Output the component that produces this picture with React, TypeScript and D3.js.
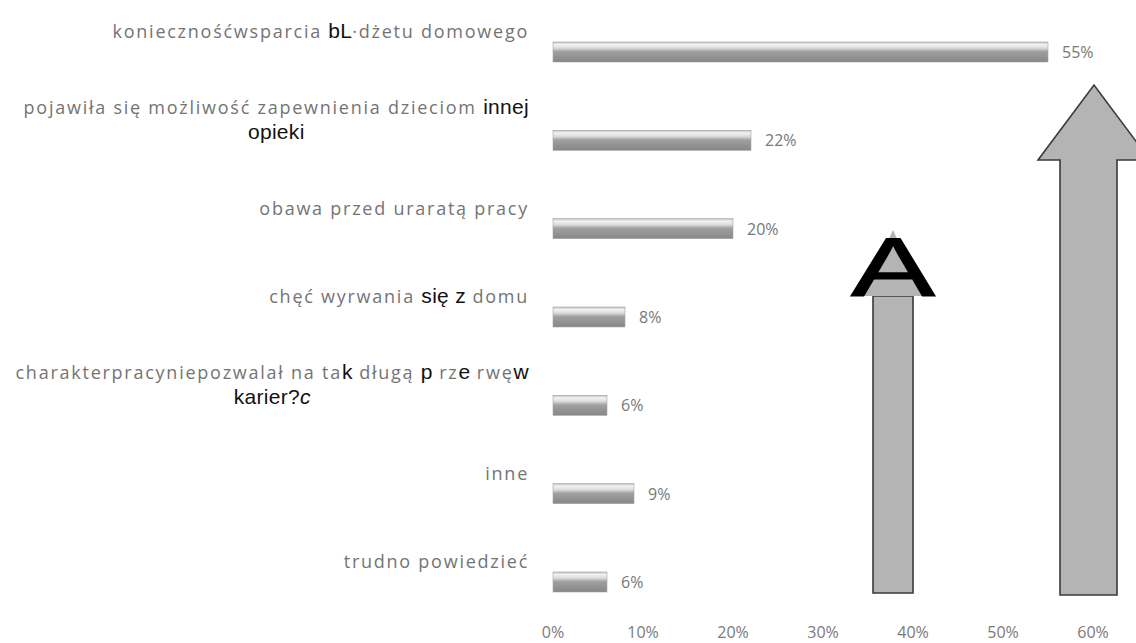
import React, { useEffect, useRef } from 'react';
import * as d3 from 'd3';

// ---- data ----
const categories = [
  'koniecznośćwsparcia bL·dżetu domowego',
  'pojawiła się możliwość zapewnienia dzieciom innej opieki',
  'obawa przed uraratą pracy',
  'chęć wyrwania się z domu',
  'charakterpracyniepozwalał na tak długą przerwę w karier?c',
  'inne',
  'trudno powiedzieć',
];
const values = [55, 22, 20, 8, 6, 9, 6];
const tickValues = [0, 10, 20, 30, 40, 50, 60];
const tickLabels = ['0%', '10%', '20%', '30%', '40%', '50%', '60%'];
const valueLabels = ['55%', '22%', '20%', '8%', '6%', '9%', '6%'];

// label rendering: lines of segments (b = black overlay text)
type Seg = { t: string; b?: boolean; i?: boolean };
const labelLines: Seg[][][] = [
  [[{ t: 'koniecznośćwsparcia ' }, { t: 'bL', b: true }, { t: '·dżetu domowego' }]],
  [
    [{ t: 'pojawiła się możliwość zapewnienia dzieciom ' }, { t: 'innej', b: true }],
    [{ t: 'opieki', b: true }],
  ],
  [[{ t: 'obawa przed uraratą pracy' }]],
  [[{ t: 'chęć wyrwania ' }, { t: 'się z', b: true }, { t: ' domu' }]],
  [
    [
      { t: 'charakterpracyniepozwalał na ta' },
      { t: 'k', b: true },
      { t: ' długą ' },
      { t: 'p', b: true },
      { t: ' rz' },
      { t: 'e', b: true },
      { t: ' rwę' },
      { t: 'w', b: true },
    ],
    [{ t: 'karier?', b: true }, { t: 'c', b: true, i: true }],
  ],
  [[{ t: 'inne' }]],
  [[{ t: 'trudno powiedzieć' }]],
];

const W = 1136;
const H = 643;

export default function App() {
  const ref = useRef<SVGSVGElement | null>(null);

  useEffect(() => {
    const svg = d3.select(ref.current!);
    svg.selectAll('*').remove();

    const x = d3.scaleLinear().domain([0, 60]).range([553, 1093]);
    const y = d3.scalePoint<string>().domain(categories).range([52, 582]);
    const barH = 20;
    const labelRight = 529;
    const lineH = 25;

    const defs = svg.append('defs');
    const g = defs
      .append('linearGradient')
      .attr('id', 'barGrad')
      .attr('x1', 0)
      .attr('y1', 0)
      .attr('x2', 0)
      .attr('y2', 1);
    [
      [0, '#bdbdbd'],
      [0.12, '#f2f2f2'],
      [0.3, '#dcdcdc'],
      [0.48, '#a0a0a0'],
      [1, '#868686'],
    ].forEach(([o, c]) => g.append('stop').attr('offset', o as number).attr('stop-color', c as string));

    // bars
    svg
      .append('g')
      .selectAll('rect')
      .data(values)
      .join('rect')
      .attr('x', x(0))
      .attr('y', (_, i) => y(categories[i])! - barH / 2)
      .attr('width', (d) => x(d) - x(0))
      .attr('height', barH)
      .attr('fill', 'url(#barGrad)')
      .attr('stroke', '#a5a5a5')
      .attr('stroke-width', 0.6);

    // value labels
    svg
      .append('g')
      .selectAll('text')
      .data(values)
      .join('text')
      .attr('x', (d) => x(d) + 14)
      .attr('y', (_, i) => y(categories[i])! + 6)
      .attr('font-family', 'Open Sans, sans-serif')
      .attr('font-size', 16)
      .attr('fill', '#777')
      .text((_, i) => valueLabels[i]);

    // tick labels
    svg
      .append('g')
      .selectAll('text')
      .data(tickValues)
      .join('text')
      .attr('x', (d) => x(d))
      .attr('y', 638)
      .attr('text-anchor', 'middle')
      .attr('font-family', 'Open Sans, sans-serif')
      .attr('font-size', 16)
      .attr('fill', '#7a7a7a')
      .text((_, i) => tickLabels[i]);

    // category labels
    const lg = svg.append('g');
    labelLines.forEach((lines, ci) => {
      const cy = y(categories[ci])! - 20;
      const n = lines.length;
      const texts = lines.map((segs, li) => {
        const t = lg
          .append('text')
          .attr('y', cy - ((n - 1) * lineH) / 2 + li * lineH + 6)
          .attr('x', labelRight)
          .attr('text-anchor', 'start');
        segs.forEach((s) => {
          t.append('tspan')
            .attr('font-family', s.b ? 'Liberation Sans, Arial, sans-serif' : 'Open Sans, sans-serif')
            .attr('font-size', s.b ? 21 : 18)
            .attr('font-style', s.i ? 'italic' : 'normal')
            .attr('letter-spacing', s.b ? 0.3 : 1.75)
            .attr('fill', s.b ? '#111' : '#747474')
            .attr('xml:space', 'preserve')
            .style('white-space', 'pre')
            .text(s.t);
        });
        return t;
      });
      const widths = texts.map((t) => (t.node() as SVGTextElement).getComputedTextLength());
      const maxW = Math.max(...widths);
      const center = labelRight - maxW / 2;
      texts.forEach((t, i) => t.attr('x', center - widths[i] / 2));
    });

    // decorative arrows (annotation)
    const arrowFill = '#b4b4b4';
    const arrowStroke = '#3a3a3a';
    const right = [
      [1060, 595],
      [1060, 160],
      [1038, 160],
      [1094, 85],
      [1150, 160],
      [1117, 160],
      [1117, 595],
    ];
    svg
      .append('polygon')
      .attr('points', right.map((p) => p.join(',')).join(' '))
      .attr('fill', arrowFill)
      .attr('stroke', arrowStroke)
      .attr('stroke-width', 1.6);

    const left = [
      [873, 593],
      [873, 296],
      [913, 296],
      [913, 593],
    ];
    svg
      .append('polygon')
      .attr('points', left.map((p) => p.join(',')).join(' '))
      .attr('fill', arrowFill)
      .attr('stroke', arrowStroke)
      .attr('stroke-width', 1.6);
    svg
      .append('polygon')
      .attr('points', '893,230 862,296 924,296')
      .attr('fill', arrowFill);
    svg
      .append('text')
      .attr('transform', 'translate(893,296) scale(1.5,1)')
      .attr('text-anchor', 'middle')
      .attr('font-family', 'Liberation Sans, Arial, sans-serif')
      .attr('font-size', 84)
      .attr('fill', '#000')
      .attr('stroke', '#000')
      .attr('stroke-width', 1.2)
      .text('A');
  }, []);

  return (
    <svg
      ref={ref}
      width={W}
      height={H}
      style={{ position: 'absolute', left: 0, top: 0, background: '#fff' }}
    />
  );
}
